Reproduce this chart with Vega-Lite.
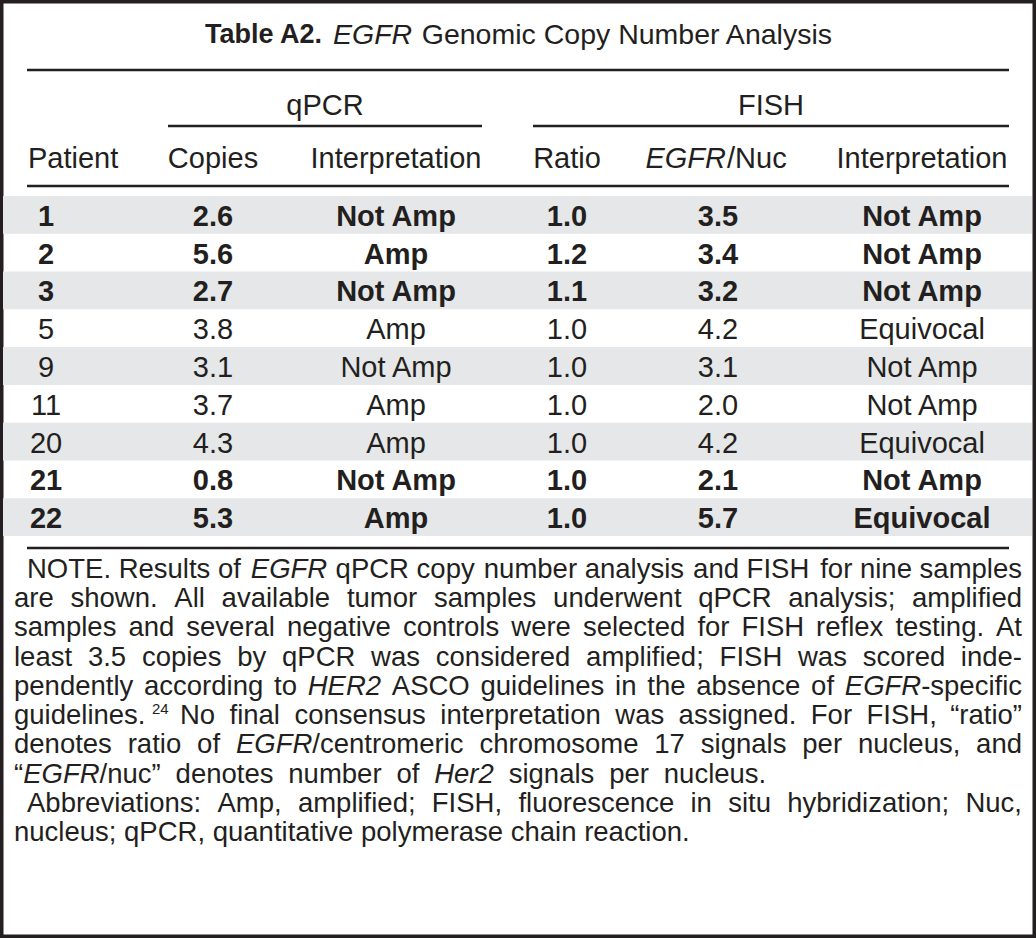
{
  "$schema": "https://vega.github.io/schema/vega-lite/v6.json",
  "width": 1036,
  "height": 938,
  "autosize": {"type": "fit", "contains": "padding"},
  "padding": 0,
  "background": "white",
  "datasets": {
    "table": [
      {"patient": 1, "copies": 2.6, "qpcr": "Not Amp", "ratio": 1.0, "nuc": 3.5, "fish": "Not Amp"},
      {"patient": 2, "copies": 5.6, "qpcr": "Amp", "ratio": 1.2, "nuc": 3.4, "fish": "Not Amp"},
      {"patient": 3, "copies": 2.7, "qpcr": "Not Amp", "ratio": 1.1, "nuc": 3.2, "fish": "Not Amp"},
      {"patient": 5, "copies": 3.8, "qpcr": "Amp", "ratio": 1.0, "nuc": 4.2, "fish": "Equivocal"},
      {"patient": 9, "copies": 3.1, "qpcr": "Not Amp", "ratio": 1.0, "nuc": 3.1, "fish": "Not Amp"},
      {"patient": 11, "copies": 3.7, "qpcr": "Amp", "ratio": 1.0, "nuc": 2.0, "fish": "Not Amp"},
      {"patient": 20, "copies": 4.3, "qpcr": "Amp", "ratio": 1.0, "nuc": 4.2, "fish": "Equivocal"},
      {"patient": 21, "copies": 0.8, "qpcr": "Not Amp", "ratio": 1.0, "nuc": 2.1, "fish": "Not Amp"},
      {"patient": 22, "copies": 5.3, "qpcr": "Amp", "ratio": 1.0, "nuc": 5.7, "fish": "Equivocal"}
    ],
    "notes": [
      {"line": 1, "part": "first", "seg": "1a", "text": "NOTE. Results of"},
      {"line": 1, "part": "mid", "seg": "1m1", "text": "EGFR"},
      {"line": 1, "part": "mid", "seg": "1m2", "text": "qPCR copy"},
      {"line": 1, "part": "mid", "seg": "1m3", "text": "number analysis"},
      {"line": 1, "part": "mid", "seg": "1m4", "text": "and FISH"},
      {"line": 1, "part": "last", "seg": "1z", "text": "for nine samples"},
      {"line": 2, "part": "first", "seg": "2a", "text": "are"},
      {"line": 2, "part": "mid", "seg": "2m1", "text": "shown."},
      {"line": 2, "part": "mid", "seg": "2m2", "text": "All"},
      {"line": 2, "part": "mid", "seg": "2m3", "text": "available"},
      {"line": 2, "part": "mid", "seg": "2m4", "text": "tumor"},
      {"line": 2, "part": "mid", "seg": "2m5", "text": "samples"},
      {"line": 2, "part": "mid", "seg": "2m6", "text": "underwent"},
      {"line": 2, "part": "mid", "seg": "2m7", "text": "qPCR"},
      {"line": 2, "part": "mid", "seg": "2m8", "text": "analysis;"},
      {"line": 2, "part": "last", "seg": "2z", "text": "amplified"},
      {"line": 3, "part": "first", "seg": "3a", "text": "samples"},
      {"line": 3, "part": "mid", "seg": "3m1", "text": "and"},
      {"line": 3, "part": "mid", "seg": "3m2", "text": "several"},
      {"line": 3, "part": "mid", "seg": "3m3", "text": "negative"},
      {"line": 3, "part": "mid", "seg": "3m4", "text": "controls"},
      {"line": 3, "part": "mid", "seg": "3m5", "text": "were"},
      {"line": 3, "part": "mid", "seg": "3m6", "text": "selected"},
      {"line": 3, "part": "mid", "seg": "3m7", "text": "for"},
      {"line": 3, "part": "mid", "seg": "3m8", "text": "FISH"},
      {"line": 3, "part": "mid", "seg": "3m9", "text": "reflex"},
      {"line": 3, "part": "mid", "seg": "3m10", "text": "testing."},
      {"line": 3, "part": "last", "seg": "3z", "text": "At"},
      {"line": 4, "part": "first", "seg": "4a", "text": "least"},
      {"line": 4, "part": "mid", "seg": "4m1", "text": "3.5"},
      {"line": 4, "part": "mid", "seg": "4m2", "text": "copies"},
      {"line": 4, "part": "mid", "seg": "4m3", "text": "by"},
      {"line": 4, "part": "mid", "seg": "4m4", "text": "qPCR"},
      {"line": 4, "part": "mid", "seg": "4m5", "text": "was"},
      {"line": 4, "part": "mid", "seg": "4m6", "text": "considered"},
      {"line": 4, "part": "mid", "seg": "4m7", "text": "amplified;"},
      {"line": 4, "part": "mid", "seg": "4m8", "text": "FISH"},
      {"line": 4, "part": "mid", "seg": "4m9", "text": "was"},
      {"line": 4, "part": "mid", "seg": "4m10", "text": "scored"},
      {"line": 4, "part": "last", "seg": "4z", "text": "inde-"},
      {"line": 5, "part": "first", "seg": "5a", "text": "pendently"},
      {"line": 5, "part": "mid", "seg": "5m1", "text": "according"},
      {"line": 5, "part": "mid", "seg": "5m2", "text": "to"},
      {"line": 5, "part": "mid", "seg": "5m3", "text": "HER2"},
      {"line": 5, "part": "mid", "seg": "5m4", "text": "ASCO"},
      {"line": 5, "part": "mid", "seg": "5m5", "text": "guidelines"},
      {"line": 5, "part": "mid", "seg": "5m6", "text": "in"},
      {"line": 5, "part": "mid", "seg": "5m7", "text": "the"},
      {"line": 5, "part": "mid", "seg": "5m8", "text": "absence"},
      {"line": 5, "part": "mid", "seg": "5m9", "text": "of"},
      {"line": 5, "part": "mid", "seg": "5m10", "text": "EGFR"},
      {"line": 5, "part": "last", "seg": "5z", "text": "-specific"},
      {"line": 6, "part": "first", "seg": "6a", "text": "guidelines."},
      {"line": 6, "part": "mid", "seg": "6m1", "text": "24"},
      {"line": 6, "part": "mid", "seg": "6m2", "text": "No"},
      {"line": 6, "part": "mid", "seg": "6m3", "text": "final"},
      {"line": 6, "part": "mid", "seg": "6m4", "text": "consensus"},
      {"line": 6, "part": "mid", "seg": "6m5", "text": "interpretation"},
      {"line": 6, "part": "mid", "seg": "6m6", "text": "was"},
      {"line": 6, "part": "mid", "seg": "6m7", "text": "assigned."},
      {"line": 6, "part": "mid", "seg": "6m8", "text": "For"},
      {"line": 6, "part": "mid", "seg": "6m9", "text": "FISH,"},
      {"line": 6, "part": "last", "seg": "6z", "text": "“ratio”"},
      {"line": 7, "part": "first", "seg": "7a", "text": "denotes"},
      {"line": 7, "part": "mid", "seg": "7m1", "text": "ratio"},
      {"line": 7, "part": "mid", "seg": "7m2", "text": "of"},
      {"line": 7, "part": "mid", "seg": "7m3", "text": "EGFR"},
      {"line": 7, "part": "mid", "seg": "7m4", "text": "/centromeric"},
      {"line": 7, "part": "mid", "seg": "7m5", "text": "chromosome"},
      {"line": 7, "part": "mid", "seg": "7m6", "text": "17"},
      {"line": 7, "part": "mid", "seg": "7m7", "text": "signals"},
      {"line": 7, "part": "mid", "seg": "7m8", "text": "per"},
      {"line": 7, "part": "mid", "seg": "7m9", "text": "nucleus,"},
      {"line": 7, "part": "last", "seg": "7z", "text": "and"},
      {"line": 8, "part": "first", "seg": "8a", "text": "“"},
      {"line": 8, "part": "mid", "seg": "8m1", "text": "EGFR"},
      {"line": 8, "part": "mid", "seg": "8m2", "text": "/nuc”"},
      {"line": 8, "part": "mid", "seg": "8m3", "text": "denotes"},
      {"line": 8, "part": "mid", "seg": "8m4", "text": "number"},
      {"line": 8, "part": "mid", "seg": "8m5", "text": "of"},
      {"line": 8, "part": "mid", "seg": "8m6", "text": "Her2"},
      {"line": 8, "part": "mid", "seg": "8m7", "text": "signals"},
      {"line": 8, "part": "mid", "seg": "8m8", "text": "per"},
      {"line": 8, "part": "mid", "seg": "8m9", "text": "nucleus."},
      {"line": 9, "part": "first", "seg": "9a", "text": "Abbreviations:"},
      {"line": 9, "part": "mid", "seg": "9m1", "text": "Amp,"},
      {"line": 9, "part": "mid", "seg": "9m2", "text": "amplified;"},
      {"line": 9, "part": "mid", "seg": "9m3", "text": "FISH,"},
      {"line": 9, "part": "mid", "seg": "9m4", "text": "fluorescence"},
      {"line": 9, "part": "mid", "seg": "9m5", "text": "in"},
      {"line": 9, "part": "mid", "seg": "9m6", "text": "situ"},
      {"line": 9, "part": "mid", "seg": "9m7", "text": "hybridization;"},
      {"line": 9, "part": "last", "seg": "9z", "text": "Nuc,"},
      {"line": 10, "part": "first", "seg": "10a", "text": "nucleus; qPCR, quantitative polymerase chain reaction."}
    ],
    "one": [{}]
  },
  "layer": [
    {
      "data": {"name": "table"},
      "encoding": {
        "y": {"field": "patient", "type": "ordinal", "scale": {"type": "band", "domain": [1, 2, 3, 5, 9, 11, 20, 21, 22], "range": [196, 536], "paddingInner": 0, "paddingOuter": 0}}
      },
      "layer": [
        {
          "transform": [{"filter": {"field": "patient", "oneOf": [1, 3, 9, 20, 22]}}],
          "mark": {"type": "rect", "color": "#e6e7e8"},
          "encoding": {
            "x": {"datum": 3, "type": "quantitative", "scale": {"domain": [0, 1036], "range": [0, 1036], "nice": false, "zero": false}},
            "x2": {"datum": 1032}
          }
        },
        {
          "transform": [{"filter": {"field": "patient", "oneOf": [1, 2, 3, 21, 22]}}],
          "layer": [
            {"mark": {"type": "text", "align": "center", "fontWeight": "bold", "fontSize": 29, "dy": 2}, "encoding": {"x": {"datum": 46}, "text": {"field": "patient", "type": "nominal"}}},
            {"mark": {"type": "text", "align": "center", "fontWeight": "bold", "fontSize": 29, "dy": 2}, "encoding": {"x": {"datum": 213}, "text": {"field": "copies", "type": "quantitative", "format": ".1f"}}},
            {"mark": {"type": "text", "align": "center", "fontWeight": "bold", "fontSize": 29, "dy": 2}, "encoding": {"x": {"datum": 396}, "text": {"field": "qpcr", "type": "nominal"}}},
            {"mark": {"type": "text", "align": "center", "fontWeight": "bold", "fontSize": 29, "dy": 2}, "encoding": {"x": {"datum": 567}, "text": {"field": "ratio", "type": "quantitative", "format": ".1f"}}},
            {"mark": {"type": "text", "align": "center", "fontWeight": "bold", "fontSize": 29, "dy": 2}, "encoding": {"x": {"datum": 718}, "text": {"field": "nuc", "type": "quantitative", "format": ".1f"}}},
            {"mark": {"type": "text", "align": "center", "fontWeight": "bold", "fontSize": 29, "dy": 2}, "encoding": {"x": {"datum": 922}, "text": {"field": "fish", "type": "nominal"}}}
          ]
        },
        {
          "transform": [{"filter": {"not": {"field": "patient", "oneOf": [1, 2, 3, 21, 22]}}}],
          "layer": [
            {"mark": {"type": "text", "align": "center", "fontSize": 29, "dy": 2}, "encoding": {"x": {"datum": 46}, "text": {"field": "patient", "type": "nominal"}}},
            {"mark": {"type": "text", "align": "center", "fontSize": 29, "dy": 2}, "encoding": {"x": {"datum": 213}, "text": {"field": "copies", "type": "quantitative", "format": ".1f"}}},
            {"mark": {"type": "text", "align": "center", "fontSize": 29, "dy": 2}, "encoding": {"x": {"datum": 396}, "text": {"field": "qpcr", "type": "nominal"}}},
            {"mark": {"type": "text", "align": "center", "fontSize": 29, "dy": 2}, "encoding": {"x": {"datum": 567}, "text": {"field": "ratio", "type": "quantitative", "format": ".1f"}}},
            {"mark": {"type": "text", "align": "center", "fontSize": 29, "dy": 2}, "encoding": {"x": {"datum": 718}, "text": {"field": "nuc", "type": "quantitative", "format": ".1f"}}},
            {"mark": {"type": "text", "align": "center", "fontSize": 29, "dy": 2}, "encoding": {"x": {"datum": 922}, "text": {"field": "fish", "type": "nominal"}}}
          ]
        }
      ]
    },
    {
      "data": {"name": "one"},
      "layer": [
        {"mark": {"type": "text", "align": "right", "fontSize": 27, "fontWeight": "bold"},
         "encoding": {"x": {"datum": 322, "type": "quantitative", "scale": {"domain": [0, 1036], "range": [0, 1036], "nice": false, "zero": false}},
                      "y": {"datum": 35, "type": "quantitative", "scale": {"domain": [0, 938], "range": [0, 938], "nice": false, "zero": false}},
                      "text": {"value": "Table A2."}}},
        {"mark": {"type": "text", "align": "left", "fontSize": 28.5, "fontStyle": "italic"}, "encoding": {"x": {"datum": 333}, "y": {"datum": 35}, "text": {"value": "EGFR"}}},
        {"mark": {"type": "text", "align": "right", "fontSize": 28.5}, "encoding": {"x": {"datum": 832}, "y": {"datum": 35}, "text": {"value": "Genomic Copy Number Analysis"}}},
        {"mark": {"type": "text", "align": "center", "fontSize": 29}, "encoding": {"x": {"datum": 325}, "y": {"datum": 106}, "text": {"value": "qPCR"}}},
        {"mark": {"type": "text", "align": "center", "fontSize": 29}, "encoding": {"x": {"datum": 771}, "y": {"datum": 106}, "text": {"value": "FISH"}}},
        {"mark": {"type": "text", "align": "left", "fontSize": 29}, "encoding": {"x": {"datum": 28}, "y": {"datum": 159}, "text": {"value": "Patient"}}},
        {"mark": {"type": "text", "align": "center", "fontSize": 29}, "encoding": {"x": {"datum": 213}, "y": {"datum": 159}, "text": {"value": "Copies"}}},
        {"mark": {"type": "text", "align": "center", "fontSize": 29}, "encoding": {"x": {"datum": 396}, "y": {"datum": 159}, "text": {"value": "Interpretation"}}},
        {"mark": {"type": "text", "align": "center", "fontSize": 29}, "encoding": {"x": {"datum": 567}, "y": {"datum": 159}, "text": {"value": "Ratio"}}},
        {"mark": {"type": "text", "align": "right", "fontSize": 29, "fontStyle": "italic"}, "encoding": {"x": {"datum": 726}, "y": {"datum": 159}, "text": {"value": "EGFR"}}},
        {"mark": {"type": "text", "align": "left", "fontSize": 29}, "encoding": {"x": {"datum": 727}, "y": {"datum": 159}, "text": {"value": "/Nuc"}}},
        {"mark": {"type": "text", "align": "center", "fontSize": 29}, "encoding": {"x": {"datum": 922}, "y": {"datum": 159}, "text": {"value": "Interpretation"}}},
        {"mark": {"type": "rule"}, "encoding": {"x": {"datum": 27}, "x2": {"datum": 1009}, "y": {"datum": 70}}},
        {"mark": {"type": "rule"}, "encoding": {"x": {"datum": 168}, "x2": {"datum": 482}, "y": {"datum": 126}}},
        {"mark": {"type": "rule"}, "encoding": {"x": {"datum": 533}, "x2": {"datum": 1009}, "y": {"datum": 126}}},
        {"mark": {"type": "rule"}, "encoding": {"x": {"datum": 27}, "x2": {"datum": 1009}, "y": {"datum": 186}}},
        {"mark": {"type": "rule"}, "encoding": {"x": {"datum": 27}, "x2": {"datum": 1009}, "y": {"datum": 548}}}
      ]
    },
    {
      "data": {"name": "notes"},
      "encoding": {
        "y": {"field": "line", "type": "ordinal", "scale": {"type": "point", "domain": [1, 2, 3, 4, 5, 6, 7, 8, 9, 10], "range": [570, 833], "padding": 0}},
        "text": {"field": "text", "type": "nominal"}
      },
      "layer": [
        {"transform": [{"filter": {"and": [{"field": "part", "equal": "first"}, {"not": {"field": "line", "oneOf": [1, 9]}}]}}], "mark": "text", "encoding": {"x": {"datum": 14}}},
        {"transform": [{"filter": {"and": [{"field": "part", "equal": "first"}, {"field": "line", "oneOf": [1, 9]}]}}], "mark": "text", "encoding": {"x": {"datum": 27}}},
        {"transform": [{"filter": {"field": "part", "equal": "last"}}], "mark": {"type": "text", "align": "right"}, "encoding": {"x": {"datum": 1022}}},
        {"transform": [{"filter": {"field": "seg", "equal": "1m1"}}], "mark": {"type": "text", "fontStyle": "italic"}, "encoding": {"x": {"datum": 250.8}}},
        {"transform": [{"filter": {"field": "seg", "equal": "1m2"}}], "mark": "text", "encoding": {"x": {"datum": 335.6}}},
        {"transform": [{"filter": {"field": "seg", "equal": "1m3"}}], "mark": "text", "encoding": {"x": {"datum": 483.8}}},
        {"transform": [{"filter": {"field": "seg", "equal": "1m4"}}], "mark": "text", "encoding": {"x": {"datum": 693.1}}},
        {"transform": [{"filter": {"field": "seg", "equal": "2m1"}}], "mark": "text", "encoding": {"x": {"datum": 70.5}}},
        {"transform": [{"filter": {"field": "seg", "equal": "2m2"}}], "mark": "text", "encoding": {"x": {"datum": 174.3}}},
        {"transform": [{"filter": {"field": "seg", "equal": "2m3"}}], "mark": "text", "encoding": {"x": {"datum": 221.6}}},
        {"transform": [{"filter": {"field": "seg", "equal": "2m4"}}], "mark": "text", "encoding": {"x": {"datum": 346.9}}},
        {"transform": [{"filter": {"field": "seg", "equal": "2m5"}}], "mark": "text", "encoding": {"x": {"datum": 433.9}}},
        {"transform": [{"filter": {"field": "seg", "equal": "2m6"}}], "mark": "text", "encoding": {"x": {"datum": 553.1}}},
        {"transform": [{"filter": {"field": "seg", "equal": "2m7"}}], "mark": "text", "encoding": {"x": {"datum": 698.2}}},
        {"transform": [{"filter": {"field": "seg", "equal": "2m8"}}], "mark": "text", "encoding": {"x": {"datum": 788.3}}},
        {"transform": [{"filter": {"field": "seg", "equal": "3m1"}}], "mark": "text", "encoding": {"x": {"datum": 128.4}}},
        {"transform": [{"filter": {"field": "seg", "equal": "3m2"}}], "mark": "text", "encoding": {"x": {"datum": 186.3}}},
        {"transform": [{"filter": {"field": "seg", "equal": "3m3"}}], "mark": "text", "encoding": {"x": {"datum": 286.9}}},
        {"transform": [{"filter": {"field": "seg", "equal": "3m4"}}], "mark": "text", "encoding": {"x": {"datum": 402.9}}},
        {"transform": [{"filter": {"field": "seg", "equal": "3m5"}}], "mark": "text", "encoding": {"x": {"datum": 511.3}}},
        {"transform": [{"filter": {"field": "seg", "equal": "3m6"}}], "mark": "text", "encoding": {"x": {"datum": 582.9}}},
        {"transform": [{"filter": {"field": "seg", "equal": "3m7"}}], "mark": "text", "encoding": {"x": {"datum": 697.4}}},
        {"transform": [{"filter": {"field": "seg", "equal": "3m8"}}], "mark": "text", "encoding": {"x": {"datum": 741.5}}},
        {"transform": [{"filter": {"field": "seg", "equal": "3m9"}}], "mark": "text", "encoding": {"x": {"datum": 816.1}}},
        {"transform": [{"filter": {"field": "seg", "equal": "3m10"}}], "mark": "text", "encoding": {"x": {"datum": 895.4}}},
        {"transform": [{"filter": {"field": "seg", "equal": "4m1"}}], "mark": "text", "encoding": {"x": {"datum": 87.9}}},
        {"transform": [{"filter": {"field": "seg", "equal": "4m2"}}], "mark": "text", "encoding": {"x": {"datum": 141.9}}},
        {"transform": [{"filter": {"field": "seg", "equal": "4m3"}}], "mark": "text", "encoding": {"x": {"datum": 237.2}}},
        {"transform": [{"filter": {"field": "seg", "equal": "4m4"}}], "mark": "text", "encoding": {"x": {"datum": 282}}},
        {"transform": [{"filter": {"field": "seg", "equal": "4m5"}}], "mark": "text", "encoding": {"x": {"datum": 371.1}}},
        {"transform": [{"filter": {"field": "seg", "equal": "4m6"}}], "mark": "text", "encoding": {"x": {"datum": 435.8}}},
        {"transform": [{"filter": {"field": "seg", "equal": "4m7"}}], "mark": "text", "encoding": {"x": {"datum": 586.1}}},
        {"transform": [{"filter": {"field": "seg", "equal": "4m8"}}], "mark": "text", "encoding": {"x": {"datum": 719.6}}},
        {"transform": [{"filter": {"field": "seg", "equal": "4m9"}}], "mark": "text", "encoding": {"x": {"datum": 798}}},
        {"transform": [{"filter": {"field": "seg", "equal": "4m10"}}], "mark": "text", "encoding": {"x": {"datum": 862.7}}},
        {"transform": [{"filter": {"field": "seg", "equal": "5m1"}}], "mark": "text", "encoding": {"x": {"datum": 144}}},
        {"transform": [{"filter": {"field": "seg", "equal": "5m2"}}], "mark": "text", "encoding": {"x": {"datum": 274}}},
        {"transform": [{"filter": {"field": "seg", "equal": "5m3"}}], "mark": {"type": "text", "fontStyle": "italic"}, "encoding": {"x": {"datum": 307.7}}},
        {"transform": [{"filter": {"field": "seg", "equal": "5m4"}}], "mark": "text", "encoding": {"x": {"datum": 391.8}}},
        {"transform": [{"filter": {"field": "seg", "equal": "5m5"}}], "mark": "text", "encoding": {"x": {"datum": 480.5}}},
        {"transform": [{"filter": {"field": "seg", "equal": "5m6"}}], "mark": "text", "encoding": {"x": {"datum": 615.1}}},
        {"transform": [{"filter": {"field": "seg", "equal": "5m7"}}], "mark": "text", "encoding": {"x": {"datum": 647.3}}},
        {"transform": [{"filter": {"field": "seg", "equal": "5m8"}}], "mark": "text", "encoding": {"x": {"datum": 696.3}}},
        {"transform": [{"filter": {"field": "seg", "equal": "5m9"}}], "mark": "text", "encoding": {"x": {"datum": 811.1}}},
        {"transform": [{"filter": {"field": "seg", "equal": "5m10"}}], "mark": {"type": "text", "fontStyle": "italic"}, "encoding": {"x": {"datum": 844.8}}},
        {"transform": [{"filter": {"field": "seg", "equal": "6m1"}}], "mark": {"type": "text", "fontSize": 15, "dy": -7}, "encoding": {"x": {"datum": 152}}},
        {"transform": [{"filter": {"field": "seg", "equal": "6m2"}}], "mark": "text", "encoding": {"x": {"datum": 179.9}}},
        {"transform": [{"filter": {"field": "seg", "equal": "6m3"}}], "mark": "text", "encoding": {"x": {"datum": 229.5}}},
        {"transform": [{"filter": {"field": "seg", "equal": "6m4"}}], "mark": "text", "encoding": {"x": {"datum": 294.4}}},
        {"transform": [{"filter": {"field": "seg", "equal": "6m5"}}], "mark": "text", "encoding": {"x": {"datum": 440.3}}},
        {"transform": [{"filter": {"field": "seg", "equal": "6m6"}}], "mark": "text", "encoding": {"x": {"datum": 615.3}}},
        {"transform": [{"filter": {"field": "seg", "equal": "6m7"}}], "mark": "text", "encoding": {"x": {"datum": 678.6}}},
        {"transform": [{"filter": {"field": "seg", "equal": "6m8"}}], "mark": "text", "encoding": {"x": {"datum": 810.8}}},
        {"transform": [{"filter": {"field": "seg", "equal": "6m9"}}], "mark": "text", "encoding": {"x": {"datum": 866.5}}},
        {"transform": [{"filter": {"field": "seg", "equal": "7m1"}}], "mark": "text", "encoding": {"x": {"datum": 127.7}}},
        {"transform": [{"filter": {"field": "seg", "equal": "7m2"}}], "mark": "text", "encoding": {"x": {"datum": 197.1}}},
        {"transform": [{"filter": {"field": "seg", "equal": "7m3"}}], "mark": {"type": "text", "fontStyle": "italic"}, "encoding": {"x": {"datum": 235.9}}},
        {"transform": [{"filter": {"field": "seg", "equal": "7m4"}}], "mark": "text", "encoding": {"x": {"datum": 312.3}}},
        {"transform": [{"filter": {"field": "seg", "equal": "7m5"}}], "mark": "text", "encoding": {"x": {"datum": 479.5}}},
        {"transform": [{"filter": {"field": "seg", "equal": "7m6"}}], "mark": "text", "encoding": {"x": {"datum": 654.3}}},
        {"transform": [{"filter": {"field": "seg", "equal": "7m7"}}], "mark": "text", "encoding": {"x": {"datum": 700.8}}},
        {"transform": [{"filter": {"field": "seg", "equal": "7m8"}}], "mark": "text", "encoding": {"x": {"datum": 802.3}}},
        {"transform": [{"filter": {"field": "seg", "equal": "7m9"}}], "mark": "text", "encoding": {"x": {"datum": 857.9}}},
        {"transform": [{"filter": {"field": "seg", "equal": "8m1"}}], "mark": {"type": "text", "fontStyle": "italic"}, "encoding": {"x": {"datum": 23.2}}},
        {"transform": [{"filter": {"field": "seg", "equal": "8m2"}}], "mark": "text", "encoding": {"x": {"datum": 99.6}}},
        {"transform": [{"filter": {"field": "seg", "equal": "8m3"}}], "mark": "text", "encoding": {"x": {"datum": 175.6}}},
        {"transform": [{"filter": {"field": "seg", "equal": "8m4"}}], "mark": "text", "encoding": {"x": {"datum": 288.3}}},
        {"transform": [{"filter": {"field": "seg", "equal": "8m5"}}], "mark": "text", "encoding": {"x": {"datum": 396.4}}},
        {"transform": [{"filter": {"field": "seg", "equal": "8m6"}}], "mark": {"type": "text", "fontStyle": "italic"}, "encoding": {"x": {"datum": 434.2}}},
        {"transform": [{"filter": {"field": "seg", "equal": "8m7"}}], "mark": "text", "encoding": {"x": {"datum": 508.7}}},
        {"transform": [{"filter": {"field": "seg", "equal": "8m8"}}], "mark": "text", "encoding": {"x": {"datum": 609.2}}},
        {"transform": [{"filter": {"field": "seg", "equal": "8m9"}}], "mark": "text", "encoding": {"x": {"datum": 663.8}}},
        {"transform": [{"filter": {"field": "seg", "equal": "9m1"}}], "mark": "text", "encoding": {"x": {"datum": 217.4}}},
        {"transform": [{"filter": {"field": "seg", "equal": "9m2"}}], "mark": "text", "encoding": {"x": {"datum": 297.9}}},
        {"transform": [{"filter": {"field": "seg", "equal": "9m3"}}], "mark": "text", "encoding": {"x": {"datum": 431.8}}},
        {"transform": [{"filter": {"field": "seg", "equal": "9m4"}}], "mark": "text", "encoding": {"x": {"datum": 518.4}}},
        {"transform": [{"filter": {"field": "seg", "equal": "9m5"}}], "mark": "text", "encoding": {"x": {"datum": 690.5}}},
        {"transform": [{"filter": {"field": "seg", "equal": "9m6"}}], "mark": "text", "encoding": {"x": {"datum": 728.2}}},
        {"transform": [{"filter": {"field": "seg", "equal": "9m7"}}], "mark": "text", "encoding": {"x": {"datum": 787.2}}}
      ]
    }
  ],
  "resolve": {"scale": {"y": "independent"}},
  "config": {
    "view": {"stroke": "#231f20", "strokeWidth": 7},
    "axis": {"disable": true},
    "legend": {"disable": true},
    "text": {"font": "Liberation Sans", "fontSize": 27.5, "color": "#231f20", "baseline": "middle", "align": "left"},
    "rule": {"color": "#231f20", "strokeWidth": 2.6}
  }
}
